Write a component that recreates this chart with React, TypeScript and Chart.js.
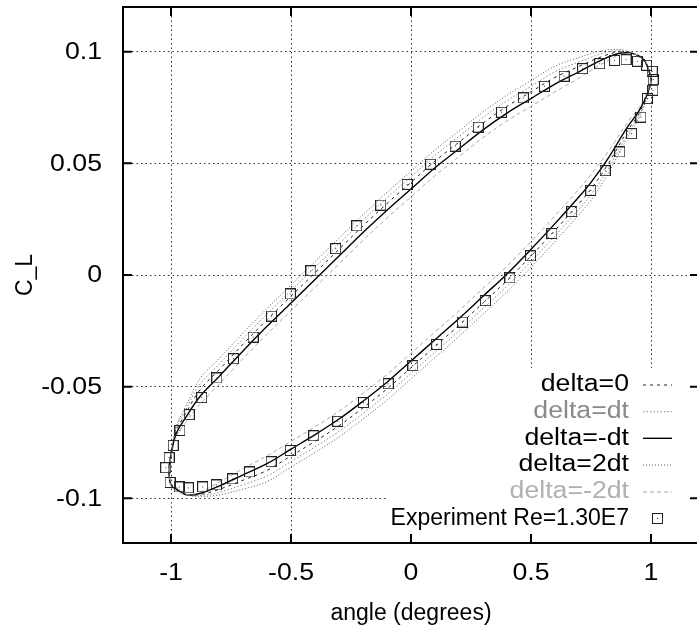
import React, { useEffect, useRef } from "react";
import { Chart, registerables } from "chart.js";

Chart.register(...registerables);

// ---- data ----
const loopAngle = [
  -1.01, -0.997, -0.978, -0.94, -0.88, -0.8, -0.7, -0.6, -0.5, -0.4, -0.3, -0.2, -0.1, 0, 0.1, 0.2, 0.3, 0.4, 0.5,
  0.6, 0.7, 0.8, 0.87, 0.93, 0.97, 0.99, 1.0, 0.98, 0.95, 0.9, 0.82, 0.75, 0.7, 0.6, 0.5, 0.4, 0.3, 0.2, 0.1, 0,
  -0.1, -0.2, -0.3, -0.4, -0.5, -0.6, -0.7, -0.8, -0.87, -0.93, -0.97, -1.0, -1.01,
];

const clDelta0 = [
  -0.087, -0.0784, -0.0698, -0.0622, -0.0515, -0.0425, -0.031, -0.02, -0.0095, 0.001, 0.0115, 0.022, 0.032, 0.0415,
  0.051, 0.0595, 0.068, 0.0755, 0.082, 0.0885, 0.0934, 0.098, 0.0999, 0.099, 0.0962, 0.0917, 0.087, 0.0794, 0.0723,
  0.0642, 0.0495, 0.0385, 0.032, 0.02, 0.0085, -0.0025, -0.0125, -0.0225, -0.032, -0.0415, -0.051, -0.0595, -0.0675,
  -0.0745, -0.081, -0.0875, -0.0919, -0.096, -0.0981, -0.0985, -0.0962, -0.0937, -0.087,
];

const clDeltaDt = [
  -0.087, -0.0779, -0.0688, -0.0607, -0.049, -0.04, -0.0285, -0.0175, -0.007, 0.0035, 0.014, 0.0245, 0.0345, 0.044,
  0.0535, 0.062, 0.0705, 0.078, 0.0845, 0.091, 0.0954, 0.0993, 0.1004, 0.099, 0.096, 0.0915, 0.087, 0.0789, 0.0713,
  0.0627, 0.0473, 0.036, 0.0295, 0.0175, 0.006, -0.005, -0.015, -0.025, -0.0345, -0.044, -0.0535, -0.062, -0.07,
  -0.077, -0.0835, -0.09, -0.0939, -0.0973, -0.0986, -0.0985, -0.096, -0.0935, -0.087,
];

const clDeltaMinusDt = [
  -0.087, -0.079, -0.071, -0.064, -0.0545, -0.0455, -0.034, -0.023, -0.0125, -0.002, 0.0085, 0.019, 0.029, 0.0385,
  0.048, 0.0565, 0.065, 0.0725, 0.079, 0.0855, 0.091, 0.0965, 0.0993, 0.099, 0.0965, 0.092, 0.087, 0.08, 0.0735,
  0.066, 0.052, 0.0415, 0.035, 0.023, 0.0115, 0.0005, -0.0095, -0.0195, -0.029, -0.0385, -0.048, -0.0565, -0.0645,
  -0.0715, -0.078, -0.0845, -0.0895, -0.0945, -0.0975, -0.0985, -0.0965, -0.094, -0.087,
];

const clDelta2Dt = [
  -0.087, -0.0774, -0.0678, -0.0592, -0.0465, -0.0375, -0.026, -0.015, -0.0045, 0.006, 0.0165, 0.027, 0.037, 0.0465,
  0.056, 0.0645, 0.073, 0.0805, 0.087, 0.0935, 0.0974, 0.1005, 0.1009, 0.099, 0.0957, 0.0912, 0.087, 0.0784, 0.0703,
  0.0612, 0.0452, 0.0335, 0.027, 0.015, 0.0035, -0.0075, -0.0175, -0.0275, -0.037, -0.0465, -0.056, -0.0645, -0.0725,
  -0.0795, -0.086, -0.0925, -0.0959, -0.0985, -0.0991, -0.0985, -0.0957, -0.0932, -0.087,
];

const clDeltaMinus2Dt = [
  -0.087, -0.0797, -0.0724, -0.0661, -0.058, -0.049, -0.0375, -0.0265, -0.016, -0.0055, 0.005, 0.0155, 0.0255, 0.035,
  0.0445, 0.053, 0.0615, 0.069, 0.0755, 0.082, 0.0882, 0.0948, 0.0986, 0.099, 0.0969, 0.0924, 0.087, 0.0807, 0.0749,
  0.0681, 0.055, 0.045, 0.0385, 0.0265, 0.015, 0.004, -0.006, -0.016, -0.0255, -0.035, -0.0445, -0.053, -0.061,
  -0.068, -0.0745, -0.081, -0.0867, -0.0928, -0.0968, -0.0985, -0.0969, -0.0944, -0.087,
];

const expAngle = [
  -1.022, -1.008, -0.991, -0.963, -0.924, -0.872, -0.809, -0.74, -0.658, -0.581, -0.503, -0.417, -0.314, -0.226,
  -0.126, -0.016, 0.082, 0.184, 0.28, 0.377, 0.468, 0.556, 0.638, 0.715, 0.786, 0.848, 0.896, 0.944, 0.982, 1.005,
  1.009, 1.008, 0.985, 0.958, 0.919, 0.87, 0.809, 0.749, 0.67, 0.587, 0.498, 0.412, 0.31, 0.214, 0.107, 0.008,
  -0.095, -0.198, -0.305, -0.405, -0.503, -0.583, -0.673, -0.743, -0.811, -0.868, -0.928, -0.966, -1.004,
];

const expCL = [
  -0.0863, -0.0818, -0.0763, -0.0696, -0.0625, -0.0549, -0.0461, -0.0375, -0.0278, -0.0184, -0.0085, 0.0019, 0.0118,
  0.022, 0.0313, 0.0406, 0.0496, 0.0577, 0.0662, 0.0729, 0.0793, 0.0845, 0.089, 0.0924, 0.0946, 0.0961, 0.0964,
  0.0957, 0.0939, 0.0912, 0.0875, 0.0827, 0.079, 0.0707, 0.0633, 0.0551, 0.0467, 0.0379, 0.0284, 0.0186, 0.0086,
  -0.0013, -0.0115, -0.0211, -0.0311, -0.0406, -0.0487, -0.0571, -0.0655, -0.072, -0.0786, -0.0836, -0.0882, -0.0913,
  -0.094, -0.0949, -0.0953, -0.0949, -0.0929,
];

const xTicks = [-1, -0.5, 0, 0.5, 1];
const xTickLabels = ["-1", "-0.5", "0", "0.5", "1"];
const yTicks = [-0.1, -0.05, 0, 0.05, 0.1];
const yTickLabels = ["-0.1", "-0.05", "0", "0.05", "0.1"];
const seriesLabels = ["delta=0", "delta=dt", "delta=-dt", "delta=2dt", "delta=-2dt", "Experiment Re=1.30E7"];
const xTitle = "angle (degrees)";
const yTitle = "C_L";

const FONT = "'Liberation Sans', Arial, Helvetica, sans-serif";
const STRETCH = 1.16;

function pts(xs: number[], ys: number[]) {
  return xs.map((x, i) => ({ x, y: ys[i] }));
}

const lineStyles = [
  { color: "#222", dash: [3, 4], width: 1, text: "#000" },
  { color: "#8a8a8a", dash: [1.5, 2], width: 1, text: "#8a8a8a" },
  { color: "#000", dash: [] as number[], width: 1.4, text: "#000" },
  { color: "#555", dash: [1, 2], width: 1, text: "#000" },
  { color: "#aaa", dash: [4, 3], width: 1, text: "#b0b0b0" },
];

function makeSquareMarker() {
  const c = document.createElement("canvas");
  c.width = 11;
  c.height = 11;
  const g = c.getContext("2d")!;
  g.strokeStyle = "#222";
  g.lineWidth = 1;
  g.strokeRect(0.5, 0.5, 10, 10);
  g.fillStyle = "#333";
  g.fillRect(5, 5, 1, 1);
  return c;
}

function stretchedText(ctx: CanvasRenderingContext2D, text: string, x: number, y: number, sx: number) {
  ctx.save();
  ctx.translate(x, y);
  ctx.scale(sx, 1);
  ctx.fillText(text, 0, 0);
  ctx.restore();
}

export default function App() {
  const ref = useRef<HTMLCanvasElement | null>(null);

  useEffect(() => {
    if (!ref.current) return;
    const curves = [clDelta0, clDeltaDt, clDeltaMinusDt, clDelta2Dt, clDeltaMinus2Dt];
    const marker = makeSquareMarker();

    const datasets: any[] = curves.map((c, i) => ({
      label: seriesLabels[i],
      data: pts(loopAngle, c),
      showLine: true,
      pointRadius: 0,
      borderColor: lineStyles[i].color,
      borderDash: lineStyles[i].dash,
      borderWidth: lineStyles[i].width,
      tension: 0.35,
      fill: false,
      order: 5 - i,
    }));
    datasets.push({
      label: seriesLabels[5],
      data: pts(expAngle, expCL),
      showLine: false,
      pointStyle: marker,
      pointRadius: 6,
      order: 0,
    });

    const framePlugin = {
      id: "frame",
      beforeDatasetsDraw(chart: any) {
        const { ctx } = chart;
        ctx.save();
        ctx.fillStyle = "#fff";
        ctx.fillRect(388, 368, 330, 174);
        ctx.restore();
      },
      afterDatasetsDraw(chart: any) {
        const { ctx, chartArea: a, scales } = chart;
        ctx.save();
        ctx.strokeStyle = "#000";
        ctx.lineWidth = 2;
        ctx.setLineDash([]);
        ctx.strokeRect(a.left, a.top, a.right - a.left, a.bottom - a.top);
        const tl = 9;
        ctx.beginPath();
        xTicks.forEach((v) => {
          const px = scales.x.getPixelForValue(v);
          ctx.moveTo(px, a.bottom);
          ctx.lineTo(px, a.bottom - tl);
          ctx.moveTo(px, a.top);
          ctx.lineTo(px, a.top + tl);
        });
        yTicks.forEach((v) => {
          const py = scales.y.getPixelForValue(v);
          ctx.moveTo(a.left, py);
          ctx.lineTo(a.left + tl, py);
          ctx.moveTo(a.right, py);
          ctx.lineTo(a.right - tl, py);
        });
        ctx.stroke();

        // tick labels (gnuplot-like, slightly wide)
        ctx.fillStyle = "#000";
        ctx.font = `23px ${FONT}`;
        ctx.textBaseline = "middle";
        ctx.textAlign = "center";
        xTicks.forEach((v, i) => {
          stretchedText(ctx, xTickLabels[i], scales.x.getPixelForValue(v), a.bottom + 31, STRETCH);
        });
        ctx.textAlign = "right";
        yTicks.forEach((v, i) => {
          stretchedText(ctx, yTickLabels[i], a.left - 21, scales.y.getPixelForValue(v) + 1, STRETCH);
        });
        ctx.restore();
      },
      afterDraw(chart: any) {
        const { ctx } = chart;
        const rowsY = [385, 411.7, 438.3, 465, 492, 518.5];
        const textRight = 629;
        ctx.save();
        ctx.font = `23px ${FONT}`;
        ctx.textAlign = "right";
        ctx.textBaseline = "middle";
        rowsY.forEach((y, i) => {
          const color = i < 5 ? lineStyles[i].text : "#000";
          ctx.fillStyle = color;
          stretchedText(ctx, seriesLabels[i], textRight, y, i < 5 ? STRETCH : 1);
          if (i < 5) {
            ctx.strokeStyle = lineStyles[i].color;
            ctx.lineWidth = lineStyles[i].width;
            ctx.setLineDash(lineStyles[i].dash);
            ctx.beginPath();
            ctx.moveTo(643, y);
            ctx.lineTo(672, y);
            ctx.stroke();
          } else {
            ctx.drawImage(marker, 652, Math.round(y - 5.5));
          }
        });
        ctx.restore();
      },
    };

    const chart = new Chart(ref.current, {
      type: "scatter",
      data: { datasets },
      options: {
        animation: false,
        responsive: false,
        devicePixelRatio: 1,
        layout: { padding: { top: 7, left: 0, right: 0, bottom: 0 } },
        plugins: { legend: { display: false }, tooltip: { enabled: false } },
        scales: {
          x: {
            type: "linear",
            min: -1.2,
            max: 1.2,
            afterBuildTicks: (s: any) => {
              s.ticks = xTicks.map((v) => ({ value: v }));
            },
            afterFit: (s: any) => {
              s.height = 87;
              s.paddingLeft = 0;
              s.paddingRight = 0;
              s.paddingTop = 0;
              s.paddingBottom = 0;
            },
            ticks: { display: false, autoSkip: false, maxRotation: 0 },
            grid: { color: "#333", lineWidth: 1, drawTicks: false },
            border: { display: false, dash: [1.5, 3] },
            title: {
              display: true,
              text: xTitle,
              color: "#000",
              font: { family: FONT, size: 23 },
              padding: { top: 0, bottom: 3 },
            },
          },
          y: {
            type: "linear",
            min: -0.12,
            max: 0.12,
            afterBuildTicks: (s: any) => {
              s.ticks = yTicks.map((v) => ({ value: v }));
            },
            afterFit: (s: any) => {
              s.width = 123;
              s.paddingLeft = 0;
              s.paddingRight = 0;
              s.paddingTop = 0;
              s.paddingBottom = 0;
            },
            ticks: { display: false, autoSkip: false },
            grid: { color: "#333", lineWidth: 1, drawTicks: false },
            border: { display: false, dash: [1.5, 3] },
            title: {
              display: true,
              text: yTitle,
              color: "#000",
              font: { family: FONT, size: 23 },
              padding: { top: 12, bottom: 0 },
            },
          },
        },
      },
      plugins: [framePlugin],
    } as any);

    return () => chart.destroy();
  }, []);

  return (
    <div
      style={{
        position: "fixed",
        left: 0,
        top: 0,
        width: 697,
        height: 630,
        overflow: "hidden",
        background: "#fff",
      }}
    >
      <canvas ref={ref} width={706} height={630} style={{ display: "block" }} />
    </div>
  );
}
